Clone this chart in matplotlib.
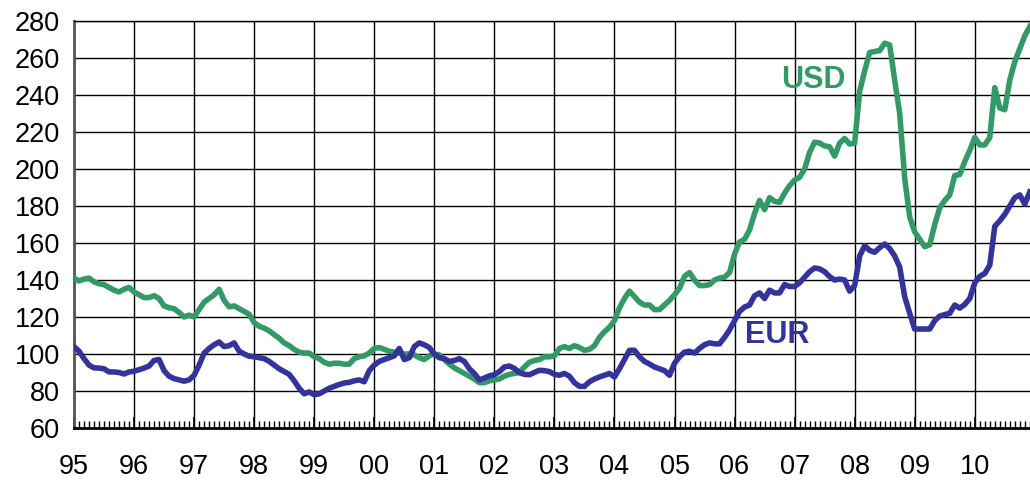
import numpy as np
import matplotlib
matplotlib.use("Agg")
import matplotlib.pyplot as plt
from matplotlib.ticker import MultipleLocator

plt.rcParams['font.family'] = ['Liberation Sans', 'DejaVu Sans']

# monthly index values, Jan 1995 - Dec 2010
usd = [141, 139.5, 140.5, 141, 139, 138, 137.5, 136, 134.5, 133.5, 135, 136,
       133.5, 132, 130.5, 130.5, 131.5, 130, 126, 125, 124.5, 122.5, 120, 121,
       120, 124, 128, 130, 132, 135, 129, 125.5, 126, 124.5, 123, 121.5,
       117, 115, 114, 112.5, 110.5, 108.5, 106, 104.5, 102.5, 101, 100.5, 100.5,
       98.5, 97.5, 95.5, 94.5, 95, 95, 94.5, 94.5, 97.5, 98.5, 99, 100.5,
       103, 103.5, 102.5, 101.5, 101, 100.5, 100, 100, 99.5, 98, 97, 99,
       100, 99.5, 97, 94.5, 92.5, 91, 89.5, 88, 86.5, 84.5, 84.5, 85.5,
       86, 86.5, 88, 89, 89.5, 90, 93, 95.5, 96.5, 97, 98.5, 98.5,
       99, 103, 104, 103, 104.5, 103.5, 102, 102.5, 104.5, 109, 112, 114.5,
       118, 125, 130, 134, 131, 128, 126.5, 126.5, 124, 124, 126.5, 129,
       132, 135.5, 142, 144, 140, 137, 137, 137.5, 140, 141, 141.5, 144,
       154, 160.5, 162, 167, 176, 183, 178, 184.5, 182.5, 182, 187, 191,
       194, 195.5, 200, 209, 214.5, 214, 212.5, 212, 207, 214, 216.5, 213.5,
       214, 242, 253, 263, 263.5, 264, 268, 267, 248, 230, 195, 174,
       166, 162, 158, 159, 170, 179, 183, 186, 196.5, 197, 204, 210,
       217, 213, 213, 217, 244, 233, 232, 248, 258, 265, 272, 277]

eur = [104, 101.5, 97.5, 94, 92.5, 92.4, 92, 90.3, 90.3, 90, 89.2, 90.3,
       90.7, 91.5, 92.4, 93.5, 96.5, 97, 91, 88, 86.7, 86, 85.3, 86,
       88.5, 94, 100.5, 103, 105, 106.5, 104, 104.5, 106, 101.5, 100, 98.8,
       98.5, 98, 97.5, 96, 94, 92, 90.5, 89, 85.5, 81.5, 78.5, 79.5,
       78, 78.5, 80, 81.5, 82.5, 83.5, 84.3, 84.7, 85.5, 86, 85, 91,
       94, 96, 97, 98, 99, 103, 97, 98, 104, 106, 105, 103.5,
       100, 98, 97.5, 96, 96.5, 97.5, 96, 92, 89.5, 86, 87, 88.2,
       88.8, 90.5, 93, 93.5, 92.2, 90, 89, 88.8, 90, 91.2, 91, 90.5,
       89, 88.5, 89.5, 88, 84.5, 82.5, 82.5, 85, 86.5, 87.6, 88.5, 89.5,
       87.6, 92, 97, 102, 102, 98.5, 96, 94.6, 93, 92, 91, 88.5,
       95, 98.5, 101, 101.5, 100.5, 103, 105, 106, 105.5, 105.5, 109, 113,
       118, 123, 125.4, 126.5, 131.5, 133, 130, 134.5, 133, 133, 137.5, 136.5,
       136.5, 138.5, 141.5, 144.5, 146.5, 146, 144.5, 141.8, 140, 140.5, 140, 134,
       137, 153, 158.5, 156, 155, 157.5, 159.5, 157, 153, 147, 131, 122,
       113.5, 113.5, 113.5, 113.5, 118, 120.5, 121.3, 122, 126.5, 124.8, 126.8, 130,
       138.5, 142, 143.5, 148, 169, 172, 175.5, 180, 184.5, 186, 181, 187.6]

years = list(range(1995, 2011))
year_labels = ['95', '96', '97', '98', '99', '00', '01', '02', '03', '04',
               '05', '06', '07', '08', '09', '10']

t = 1995 + np.arange(len(usd)) / 12

green = '#339966'
blue = '#333399'

fig = plt.figure(figsize=(10.3, 4.82), dpi=100)
ax = fig.add_axes([74 / 1030, 54 / 482, 1 - 74 / 1030, 407 / 482])

ax.plot(t, usd, color=green, lw=4, solid_joinstyle='round', zorder=3)
ax.plot(t, eur, color=blue, lw=4, solid_joinstyle='round', zorder=3)

ax.text(2007.31, 248, 'USD', color=green, fontsize=22, fontweight='bold',
        ha='center', va='center')
ax.text(2006.71, 110.3, 'EUR', color=blue, fontsize=22, fontweight='bold',
        ha='center', va='center')

ax.set_xlim(1995, 2010.92)
ax.set_ylim(60, 280)
ax.yaxis.set_major_locator(MultipleLocator(20))
ax.set_xticks(years)
ax.set_xticklabels(year_labels)
ax.xaxis.set_minor_locator(MultipleLocator(1 / 12))

ax.grid(True, which='major', color='black', lw=1)
ax.set_axisbelow(True)

ax.tick_params(axis='x', which='major', direction='in', length=8, width=1.2,
               labelsize=19.5, pad=19)
ax.tick_params(axis='x', which='minor', direction='in', length=5, width=1)
ax.tick_params(axis='y', which='major', length=0, labelsize=19.5, pad=10)

ax.spines['top'].set_linewidth(1)
ax.spines['left'].set_color('#555555')
ax.spines['left'].set_linewidth(2)
ax.spines['bottom'].set_linewidth(2)
ax.spines['right'].set_visible(False)

plt.savefig('out.png', dpi=100)
